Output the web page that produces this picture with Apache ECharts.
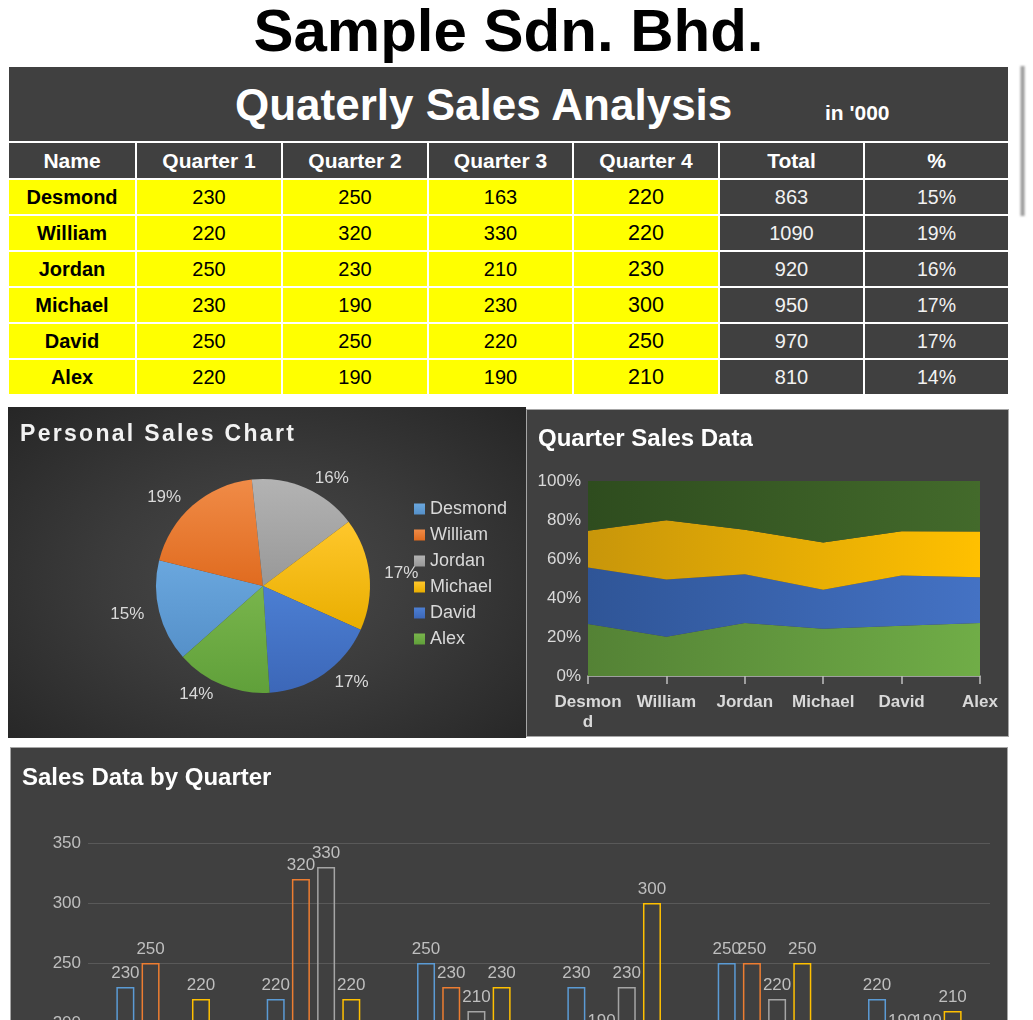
<!DOCTYPE html>
<html>
<head>
<meta charset="utf-8">
<title>Quaterly Sales Analysis</title>
<script src="https://cdn.jsdelivr.net/npm/echarts@6/dist/echarts.min.js"></script>
<style>
  html, body { margin: 0; padding: 0; background: #fff; }
  body {
    width: 1033px; height: 1020px; overflow: hidden; position: relative;
    font-family: "Liberation Sans", Arial, sans-serif;
  }
  .abs { position: absolute; }
  #company {
    left: 0; top: 1px; width: 1017px; text-align: center;
    font-size: 60px; line-height: 60px; font-weight: bold; color: #000;
  }
  .cell {
    position: absolute; box-sizing: border-box;
    display: flex; align-items: center; justify-content: center;
    font-size: 20px; white-space: nowrap;
  }
  .dark { background: #404040; color: #f2f2f2; }
  .yellow { background: #ffff00; color: #000; }
  .panel { position: absolute; background: #404040; border: 1px solid #a6a6a6; }
  #piePanel {
    left: 8px; top: 407px; width: 518px; height: 331px;
    background: radial-gradient(ellipse at 50% 52%, #4a4a4a 0%, #3b3b3b 45%, #262626 100%);
  }
  #pieTitle {
    left: 12px; top: 15px; font-size: 23px; line-height: 23px; font-weight: bold;
    letter-spacing: 2.3px; color: #f2f2f2;
  }
  #shadow {
    left: 1020px; top: 66px; width: 5px; height: 150px;
    background: linear-gradient(to right, #d8d8d8, #8c8c8c, #d0d0d0); filter: blur(1px);
  }
</style>
</head>
<body>
<div id="company" class="abs">Sample Sdn. Bhd.</div>
<div id="table"></div>
<div id="shadow" class="abs"></div>

<div id="piePanel" class="abs">
  <div id="pie" class="abs" style="left:0;top:0;width:518px;height:331px"></div>
  <div id="pieTitle" class="abs">Personal Sales Chart</div>
</div>

<div class="panel" style="left:526px;top:409px;width:481px;height:326px">
  <div id="area" style="width:481px;height:326px"></div>
</div>

<div class="panel" style="left:10px;top:747px;width:996px;height:560px">
  <div id="bar" style="width:996px;height:560px"></div>
</div>

<script>
const FONT = '"Liberation Sans", Arial, sans-serif';

// data
const names = ['Desmond', 'William', 'Jordan', 'Michael', 'David', 'Alex'];
const quarters = ['Quarter 1', 'Quarter 2', 'Quarter 3', 'Quarter 4'];
const q1 = [230, 220, 250, 230, 250, 220];
const q2 = [250, 320, 230, 190, 250, 190];
const q3 = [163, 330, 210, 230, 220, 190];
const q4 = [220, 220, 230, 300, 250, 210];
const quarterValues = [q1, q2, q3, q4];

const totals = names.map((n, i) => q1[i] + q2[i] + q3[i] + q4[i]);
const grandTotal = totals.reduce((a, b) => a + b, 0);
const shares = totals.map(t => Math.round(t / grandTotal * 100));

// colours
const pieTop = ['#6aa7de', '#f08b47', '#b3b3b3', '#ffc72c', '#4c7fd3', '#79b54c'];
const pieBottom = ['#5590c9', '#e06b1f', '#989898', '#e9ae00', '#3c67b8', '#60a03a'];
const areaLeft = ['#548235', '#2f5597', '#c8960a', '#2e4c1e'];
const areaRight = ['#70ad47', '#4472c4', '#ffc000', '#436a2b'];
const barColors = ['#5b9bd5', '#ed7d31', '#a5a5a5', '#ffc000'];

// ---- table ----
const colEdges = [9, 135, 281, 427, 572, 718, 863, 1008];
const table = document.getElementById('table');

function addCell(x, y, w, h, text, cls, style) {
  const d = document.createElement('div');
  d.className = 'cell ' + cls;
  d.style.left = x + 'px';
  d.style.top = y + 'px';
  d.style.width = w + 'px';
  d.style.height = h + 'px';
  d.textContent = text;
  Object.assign(d.style, style || {});
  table.appendChild(d);
}

// title row
addCell(9, 67, 999, 74, '', 'dark');
const t1 = document.createElement('div');
t1.className = 'abs';
Object.assign(t1.style, { left: '235px', top: '83px', fontSize: '44px', lineHeight: '44px', fontWeight: 'bold', color: '#fff' });
t1.textContent = 'Quaterly Sales Analysis';
table.appendChild(t1);
const t2 = document.createElement('div');
t2.className = 'abs';
Object.assign(t2.style, { left: '825px', top: '102px', fontSize: '21px', lineHeight: '21px', fontWeight: 'bold', color: '#fff' });
t2.textContent = "in '000";
table.appendChild(t2);

const headers = ['Name'].concat(quarters, ['Total', '%']);
headers.forEach((h, c) => {
  addCell(colEdges[c], 141, colEdges[c + 1] - colEdges[c], 37, h, 'dark', {
    borderTop: '2px solid #fff', borderLeft: c ? '2px solid #fff' : 'none',
    fontWeight: 'bold', fontSize: '21px', color: '#fff'
  });
});

names.forEach((n, i) => {
  const y = 178 + i * 36;
  const row = [n, q1[i], q2[i], q3[i], q4[i], totals[i], shares[i] + '%'];
  row.forEach((v, c) => {
    const style = { borderTop: '2px solid #fff', borderLeft: c ? '2px solid #fff' : 'none' };
    if (c === 0) style.fontWeight = 'bold';
    if (c === 4) style.fontSize = '21.5px';
    if (c === 6) style.fontSize = '19.5px';
    addCell(colEdges[c], y, colEdges[c + 1] - colEdges[c], 36, String(v), c < 5 ? 'yellow' : 'dark', style);
  });
});

// ---- pie ----
function vgrad(a, b) {
  return { type: 'linear', x: 0, y: 0, x2: 0, y2: 1, colorStops: [{ offset: 0, color: a }, { offset: 1, color: b }] };
}
function hgrad(a, b) {
  return { type: 'linear', x: 0, y: 0, x2: 1, y2: 0, colorStops: [{ offset: 0, color: a }, { offset: 1, color: b }] };
}

const pieChart = echarts.init(document.getElementById('pie'));
pieChart.setOption({
  animation: false,
  textStyle: { fontFamily: FONT },
  legend: {
    orient: 'vertical', left: 401, top: 88,
    icon: 'rect', itemWidth: 11, itemHeight: 11, itemGap: 8,
    textStyle: { color: '#d9d9d9', fontSize: 18, lineHeight: 18 },
    data: names
  },
  series: [{
    type: 'pie',
    center: [255, 179],
    radius: 107,
    startAngle: 221.5,
    avoidLabelOverlap: false,
    label: {
      show: true, position: 'outside', color: '#d9d9d9', fontSize: 17,
      formatter: p => Math.round(p.percent) + '%'
    },
    labelLine: { show: false, length: 10, length2: 0 },
    emphasis: { disabled: true },
    data: names.map((n, i) => ({
      name: n, value: totals[i],
      itemStyle: { color: vgrad(pieTop[i], pieBottom[i]) }
    }))
  }]
});

// ---- 100% stacked area ----
const areaChart = echarts.init(document.getElementById('area'));
areaChart.setOption({
  animation: false,
  textStyle: { fontFamily: FONT },
  title: {
    text: 'Quarter Sales Data', left: 6, top: 12,
    textStyle: { color: '#fff', fontSize: 24, fontWeight: 'bold', fontFamily: FONT }
  },
  grid: { left: 61, right: 28, top: 71, bottom: 60, outerBoundsMode: 'none', containLabel: false },
  xAxis: {
    type: 'category', boundaryGap: false, data: names,
    axisLine: { lineStyle: { color: '#bfbfbf', width: 1.5 } },
    axisTick: { show: true, length: 8, lineStyle: { color: '#bfbfbf', width: 1.5 } },
    axisLabel: {
      color: '#d9d9d9', fontSize: 17, fontWeight: 'bold', margin: 16,
      width: 70, overflow: 'breakAll', lineHeight: 20, interval: 0
    }
  },
  yAxis: {
    type: 'value', min: 0, max: 100, interval: 20,
    axisLabel: { formatter: '{value}%', color: '#d9d9d9', fontSize: 17, margin: 7 },
    splitLine: { show: false }, axisLine: { show: false }, axisTick: { show: false }
  },
  series: quarters.map((q, k) => ({
    name: q, type: 'line', stack: 'share', symbol: 'none',
    lineStyle: { width: 0 },
    areaStyle: { color: hgrad(areaLeft[k], areaRight[k]), opacity: 1 },
    data: quarterValues[k].map((v, i) => v / totals[i] * 100)
  }))
});

// ---- bars ----
const barChart = echarts.init(document.getElementById('bar'));
barChart.setOption({
  animation: false,
  textStyle: { fontFamily: FONT },
  title: {
    text: 'Sales Data by Quarter', left: 6, top: 13,
    textStyle: { color: '#fff', fontSize: 24, fontWeight: 'bold', fontFamily: FONT }
  },
  grid: { left: 77, right: 17, top: 95, height: 420, outerBoundsMode: 'none', containLabel: false },
  xAxis: {
    type: 'category', data: names,
    axisLine: { lineStyle: { color: '#595959' } },
    axisTick: { show: false },
    axisLabel: { color: '#bfbfbf', fontSize: 17 }
  },
  yAxis: {
    type: 'value', min: 0, max: 350, interval: 50,
    axisLabel: { color: '#bfbfbf', fontSize: 17, margin: 7 },
    splitLine: { lineStyle: { color: '#595959', width: 1 } }
  },
  series: quarters.map((q, k) => ({
    name: q, type: 'bar', barWidth: 18, barGap: '40%',
    itemStyle: { color: 'rgba(0,0,0,0)', borderColor: barColors[k], borderWidth: 1.5 },
    label: { show: true, position: 'top', color: '#bfbfbf', fontSize: 17 },
    data: quarterValues[k]
  }))
});
</script>
</body>
</html>
